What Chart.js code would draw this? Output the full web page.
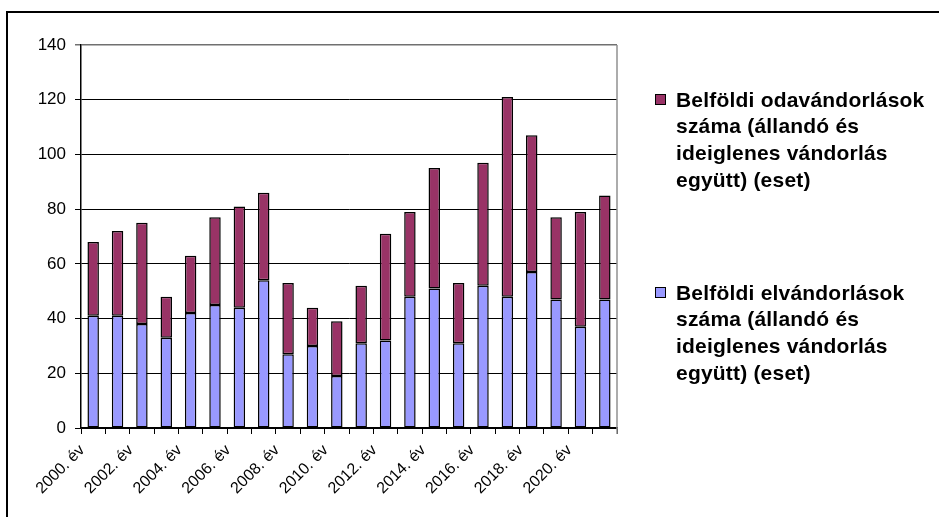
<!DOCTYPE html>
<html lang="hu">
<head>
<meta charset="UTF-8" />
<title>Belföldi vándorlások</title>
<script src="https://cdn.jsdelivr.net/npm/chart.js"></script>
<style>
  html, body { margin: 0; padding: 0; background: #fff; }
  #wrap { width: 939px; height: 517px; }
</style>
</head>
<body>
<div id="wrap"><canvas id="chart" width="939" height="517"></canvas></div>
<script>
  const years = ['2000. év','2001. év','2002. év','2003. év','2004. év','2005. év','2006. év','2007. év',
    '2008. év','2009. év','2010. év','2011. év','2012. év','2013. év','2014. év','2015. év',
    '2016. év','2017. év','2018. év','2019. év','2020. év','2021. év'];
  // elvándorlások (alsó, kék)
  const elvandorlas = [41, 41, 38, 33, 42, 45, 44, 54, 27, 30, 19, 31, 32, 48, 51, 31, 52, 48, 57, 47, 37, 47];
  // odavándorlások (felső, lila)
  const odavandorlas = [27, 31, 37, 15, 21, 32, 37, 32, 26, 14, 20, 21, 39, 31, 44, 22, 45, 73, 50, 30, 42, 38];
  const elvLabel = ['Belföldi elvándorlások', 'száma (állandó és', 'ideiglenes vándorlás', 'együtt) (eset)'];
  const odaLabel = ['Belföldi odavándorlások', 'száma (állandó és', 'ideiglenes vándorlás', 'együtt) (eset)'];
  const yTicks = [0, 20, 40, 60, 80, 100, 120, 140];

  Chart.defaults.font.family = "'Liberation Sans', Arial, sans-serif";
  Chart.defaults.color = '#000';

  const framePlugin = {
    id: 'frame',
    beforeDraw(chart) {
      const ctx = chart.ctx;
      ctx.save();
      ctx.fillStyle = '#fff';
      ctx.fillRect(0, 0, chart.width, chart.height);
      ctx.strokeStyle = '#000';
      ctx.lineWidth = 2;
      ctx.beginPath();
      ctx.moveTo(7, chart.height);
      ctx.lineTo(7, 12);
      ctx.lineTo(chart.width, 12);
      ctx.stroke();
      ctx.restore();
    },
    afterDraw(chart) {
      const ctx = chart.ctx;
      const a = chart.chartArea;
      ctx.save();
      ctx.strokeStyle = '#909090';
      ctx.lineWidth = 1.5;
      ctx.beginPath();
      ctx.moveTo(a.right, a.top);
      ctx.lineTo(a.right, a.bottom + 6);
      ctx.stroke();

      // legend (reversed, like the original)
      const items = chart.data.datasets.slice().reverse();
      const starts = [100, 293];
      ctx.font = "bold 21px 'Liberation Sans', Arial, sans-serif";
      ctx.letterSpacing = '0.2px';
      ctx.textBaseline = 'middle';
      items.forEach((ds, i) => {
        const y0 = starts[i];
        ctx.fillStyle = ds.backgroundColor;
        ctx.fillRect(655, y0 - 5, 10, 10);
        ctx.strokeStyle = '#000';
        ctx.lineWidth = 1;
        ctx.strokeRect(655.5, y0 - 5.5, 10, 10);
        ctx.fillStyle = '#000';
        ds.lines.forEach((ln, j) => ctx.fillText(ln, 676, y0 + 1 + j * 26.7));
      });
      ctx.restore();
    }
  };

  new Chart(document.getElementById('chart'), {
    type: 'bar',
    data: {
      labels: years,
      datasets: [
        { label: elvLabel.join(' '), lines: elvLabel, data: elvandorlas, backgroundColor: '#9999FF',
          borderColor: '#000', borderWidth: 1.5, borderSkipped: false },
        { label: odaLabel.join(' '), lines: odaLabel, data: odavandorlas, backgroundColor: '#993366',
          borderColor: '#000', borderWidth: 1.5, borderSkipped: false }
      ]
    },
    options: {
      responsive: false,
      animation: false,
      layout: { padding: { top: 45, right: 322, left: 0, bottom: 0 } },
      datasets: { bar: { barPercentage: 0.47, categoryPercentage: 1 } },
      plugins: { legend: { display: false }, tooltip: { enabled: false } },
      scales: {
        x: {
          stacked: true,
          afterFit(scale) { scale.height = 89; },
          grid: { offset: true, drawOnChartArea: false, color: '#000', tickLength: 6 },
          border: { color: '#000', width: 1.5 },
          ticks: {
            autoSkip: false, maxRotation: 45, minRotation: 45,
            font: { size: 16 }, labelOffset: -11, padding: 7,
            callback(v, i) { return i % 2 === 0 ? this.getLabelForValue(v) : ''; }
          }
        },
        y: {
          stacked: true,
          min: 0, max: 140,
          afterFit(scale) { scale.width = 81; },
          afterBuildTicks(scale) { scale.ticks = yTicks.map(v => ({ value: v })); },
          grid: {
            color: c => c.tick && c.tick.value === 140 ? '#707070' : '#000',
            lineWidth: c => c.tick && c.tick.value === 140 ? 1.5 : 1,
            tickLength: 6
          },
          border: { color: '#000', width: 1.5 },
          ticks: { padding: 9, font: { size: 17 } }
        }
      }
    },
    plugins: [framePlugin]
  });
</script>
</body>
</html>
